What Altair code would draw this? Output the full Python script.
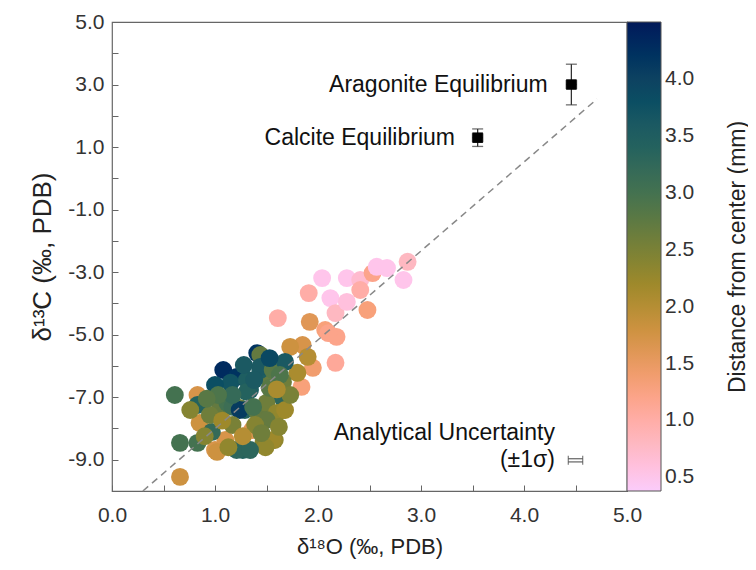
import altair as alt
import pandas as pd

# scatter data: d18O, d13C, distance from center (mm)
d18O = [1.61, 1.91, 2.04, 2.12, 2.17, 2.28, 2.28, 2.41, 2.53, 2.57, 2.67, 2.83, 2.87, 2.48, 2.41,
        1.92, 2.07, 2.18, 1.85, 2.17, 1.73, 1.95, 1.84, 1.90, 1.80, 2.10, 1.66, 1.56, 1.58, 1.36,
        1.47, 1.39, 1.53, 1.65, 1.44, 1.27, 0.61, 0.83, 0.83, 0.85, 0.66, 0.83, 1.00, 1.10, 1.21,
        0.97, 1.05, 1.24, 0.66, 1.12, 1.34, 1.08, 1.21, 1.15, 1.41, 1.44, 1.31, 1.44, 1.56, 1.68,
        1.66, 1.17, 1.29, 1.41, 1.50, 1.60, 1.68, 1.31, 1.53, 1.24, 1.02, 1.56, 1.50, 1.37, 0.95,
        1.17, 1.39, 1.49, 1.73, 1.00, 1.17, 1.03, 1.28, 1.53, 1.63, 0.76, 1.13, 1.34,
        0.92, 1.07, 1.27, 1.45, 1.62, 1.38, 1.60, 0.90]
d13C = [-4.47, -3.67, -3.19, -3.83, -4.31, -3.19, -3.95, -3.25, -3.03, -2.83, -2.87, -3.25, -2.67, -4.21, -3.57,
        -4.59, -4.85, -5.07, -5.33, -5.90, -5.39, -6.06, -6.67, -5.71, -6.22, -4.95, -7.41, -7.57, -8.37, -8.05,
        -8.46, -7.41, -6.45, -6.99, -6.13, -8.69, -6.93, -6.93, -7.25, -7.82, -8.46, -8.46, -8.69, -8.37, -8.69,
        -8.11, -7.31, -7.34, -9.55, -7.18, -6.77, -6.13, -6.35, -6.54, -5.59, -5.65, -6.45, -6.03, -6.13, -5.87,
        -6.51, -7.31, -7.41, -7.47, -7.18, -7.50, -7.41, -6.83, -6.70, -7.41, -8.75, -8.37, -7.73, -7.31, -7.57,
        -7.89, -7.89, -8.60, -6.93, -6.61, -6.93, -6.93, -5.97, -5.75, -6.29, -7.41, -8.60, -8.69,
        -7.05, -7.75, -8.25, -8.15, -7.95, -6.45, -6.75, -8.25]
dist = [1.0, 1.0, 0.5, 0.5, 0.8, 0.5, 0.6, 0.7, 1.2, 0.5, 0.5, 0.5, 0.8, 1.3, 1.0,
        1.6, 1.3, 1.2, 1.7, 1.1, 1.8, 1.4, 1.3, 2.0, 2.1, 1.2, 2.1, 2.2, 2.3, 1.6,
        2.4, 2.7, 2.7, 3.3, 3.5, 3.4, 3.0, 1.7, 3.4, 1.8, 3.0, 3.0, 1.7, 1.7, 3.3,
        3.2, 2.7, 2.6, 1.8, 3.0, 3.5, 4.3, 4.2, 3.7, 4.2, 2.7, 3.5, 3.6, 2.8, 3.6,
        2.6, 3.1, 3.4, 2.7, 2.6, 2.3, 2.2, 3.4, 2.8, 4.1, 1.8, 2.2, 2.7, 3.0, 2.6,
        2.5, 2.4, 2.3, 2.5, 3.8, 3.2, 2.9, 3.6, 3.9, 2.9, 2.4, 2.3, 3.3,
        2.8, 2.2, 2.0, 2.6, 2.4, 3.6, 2.1, 2.4]

# dashed reference line
line_x = [0.30, 4.71]
line_y = [-10.0, 2.54]

# equilibrium markers
eq_names = ["Aragonite Equilibrium", "Calcite Equilibrium"]
eq_x = [4.46, 3.55]
eq_y = [3.0, 1.3]
eq_xerr = [0.05, 0.05]
eq_yerr = [0.65, 0.28]

# analytical uncertainty
au_x = [4.50]
au_y = [-9.02]
au_xerr = [0.07]
au_yerr = [0.05]

# annotation text
ann_text = ["Aragonite Equilibrium", "Calcite Equilibrium", "Analytical Uncertainty", "(±1σ)"]
ann_x = [4.23, 3.33, 4.30, 4.30]
ann_y = [3.0, 1.3, -8.14, -9.0]

# color scale (batlow reversed)
c_colors = ["#FACCFA", "#FDB7BC", "#F8A17B", "#D29343", "#9D892B",
            "#687B3E", "#3C6D56", "#1C5A62", "#103F60", "#011959"]
c_lo, c_hi = 0.38, 4.5
c_domain = [c_lo + (c_hi - c_lo) * i / 9 for i in range(10)]
legend_vals = [0.5, 1.0, 1.5, 2.0, 2.5, 3.0, 3.5, 4.0]
legend_title = "Distance from center (mm)"

xticks = [i * 0.5 for i in range(11)]
yticks = list(range(-10, 6))

FONT = "Liberation Sans"
W, H = 515, 469

df = pd.DataFrame({"x": d18O, "y": d13C, "d": dist})
line_df = pd.DataFrame({"x": line_x, "y": line_y})
eq_df = pd.DataFrame({"name": eq_names, "x": eq_x, "y": eq_y, "xe": eq_xerr, "ye": eq_yerr})
au_df = pd.DataFrame({"x": au_x, "y": au_y, "xe": au_xerr, "ye": au_yerr})
ann_df = pd.DataFrame({"t": ann_text, "x": ann_x, "y": ann_y})

xs = alt.Scale(domain=[0, 5], nice=False, zero=False)
ys = alt.Scale(domain=[-10, 5], nice=False, zero=False)

x_main = alt.Axis(values=xticks, labelExpr="datum.value % 1 == 0 ? format(datum.value, '.1f') : ''",
                  ticks=False, domain=False, grid=False, labelFlush=False, labelOverlap=False,
                  labelFontSize=21, labelFont=FONT, labelColor="#333", labelPadding=13,
                  title="δ¹⁸O (‰, PDB)", titleFont=FONT, titleFontSize=22, titleFontWeight="normal",
                  titleColor="#222", titlePadding=11, orient="bottom")
y_main = alt.Axis(values=yticks,
                  labelExpr="datum.value % 2 != 0 ? replace(format(datum.value, '.1f'), '\u2212', '-') : ''",
                  ticks=False, domain=False, grid=False, labelFlush=False, labelOverlap=False,
                  labelFontSize=21, labelFont=FONT, labelColor="#333", labelPadding=8,
                  title="δ¹³C (‰, PDB)", titleFont=FONT, titleFontSize=26, titleFontWeight="normal",
                  titleColor="#222", titlePadding=12, orient="left")
x_tick = alt.Axis(values=xticks, labels=False, domain=False, grid=False, ticks=True, tickSize=6,
                  tickColor="#666", offset=-6, title=None, orient="bottom")
y_tick = alt.Axis(values=yticks, labels=False, domain=False, grid=False, ticks=True, tickSize=6,
                  tickColor="#666", offset=-6, title=None, orient="left")
# right-side axis used only to carry the colour-bar title (reads bottom to top)
y_cbar_title = alt.Axis(labels=False, ticks=False, domain=False, grid=False, orient="right",
                        title=legend_title, titleFont=FONT, titleFontSize=23, titleFontWeight="normal",
                        titleColor="#222", titleAngle=270, titleX=110, titleY=H / 2,
                        titleAlign="center", titleBaseline="middle")

line = alt.Chart(line_df).mark_line(color="#888", strokeDash=[7, 5], strokeWidth=1.5).encode(
    x=alt.X("x:Q", scale=xs, axis=x_tick),
    y=alt.Y("y:Q", scale=ys, axis=y_tick),
)

points = alt.Chart(df).mark_circle(size=320, opacity=1).encode(
    x=alt.X("x:Q", scale=xs, axis=x_main),
    y=alt.Y("y:Q", scale=ys, axis=y_main),
    color=alt.Color("d:Q", scale=alt.Scale(domain=c_domain, range=c_colors),
                    legend=alt.Legend(orient="none", legendX=W, legendY=0, direction="vertical",
                                      gradientLength=H, gradientThickness=34,
                                      gradientStrokeColor="#555", gradientStrokeWidth=1,
                                      values=legend_vals, format=".1f", title=None,
                                      labelFontSize=21, labelFont=FONT, labelColor="#333",
                                      labelOffset=4)),
)

na = dict(axis=None)
eq_base = alt.Chart(eq_df).transform_calculate(
    ylo="datum.y - datum.ye", yhi="datum.y + datum.ye",
    xlo="datum.x - datum.xe", xhi="datum.x + datum.xe")
eq_vbar = eq_base.mark_rule(color="#333", strokeWidth=1.3).encode(
    x=alt.X("x:Q", scale=xs, **na), y=alt.Y("ylo:Q", scale=ys, **na), y2="yhi:Q")
eq_hbar = eq_base.mark_rule(color="#333", strokeWidth=1.3).encode(
    x=alt.X("xlo:Q", scale=xs, **na), x2="xhi:Q", y=alt.Y("y:Q", scale=ys, **na))
eq_ycaps = eq_base.transform_fold(["ylo", "yhi"], as_=["k", "v"]).mark_tick(
    orient="horizontal", size=11, thickness=1.3, color="#333").encode(
    x=alt.X("x:Q", scale=xs, **na), y=alt.Y("v:Q", scale=ys, **na))
eq_xcaps = eq_base.transform_fold(["xlo", "xhi"], as_=["k", "v"]).mark_tick(
    orient="vertical", size=9, thickness=1.3, color="#333").encode(
    x=alt.X("v:Q", scale=xs, **na), y=alt.Y("y:Q", scale=ys, **na))
eq_sq = eq_base.mark_square(size=110, color="black", opacity=1).encode(
    x=alt.X("x:Q", scale=xs, **na), y=alt.Y("y:Q", scale=ys, axis=y_cbar_title))

au_base = alt.Chart(au_df).transform_calculate(
    ylo="datum.y - datum.ye", yhi="datum.y + datum.ye",
    xlo="datum.x - datum.xe", xhi="datum.x + datum.xe")
au_h = au_base.transform_fold(["ylo", "yhi"], as_=["k", "v"]).mark_rule(
    color="#444", strokeWidth=1).encode(
    x=alt.X("xlo:Q", scale=xs, **na), x2="xhi:Q", y=alt.Y("v:Q", scale=ys, **na))
au_caps = au_base.transform_fold(["xlo", "xhi"], as_=["k", "v"]).mark_tick(
    orient="vertical", size=9, thickness=1.2, color="#444").encode(
    x=alt.X("v:Q", scale=xs, **na), y=alt.Y("y:Q", scale=ys, **na))

ann = alt.Chart(ann_df).mark_text(align="right", baseline="middle", font=FONT, fontSize=23,
                                  color="#111").encode(
    x=alt.X("x:Q", scale=xs, **na), y=alt.Y("y:Q", scale=ys, **na), text="t:N")

chart = alt.layer(points, line, eq_vbar, eq_hbar, eq_ycaps, eq_xcaps, eq_sq, au_h, au_caps, ann).resolve_axis(
    x="independent", y="independent"
).properties(
    width=W, height=H,
    padding={"left": 104, "top": 14, "right": 121, "bottom": 71},
    autosize=alt.AutoSizeParams(type="none"),
).configure_view(stroke="#666", strokeWidth=1.2)

chart.save("out.html", embed_options={"renderer": "svg", "actions": False})
